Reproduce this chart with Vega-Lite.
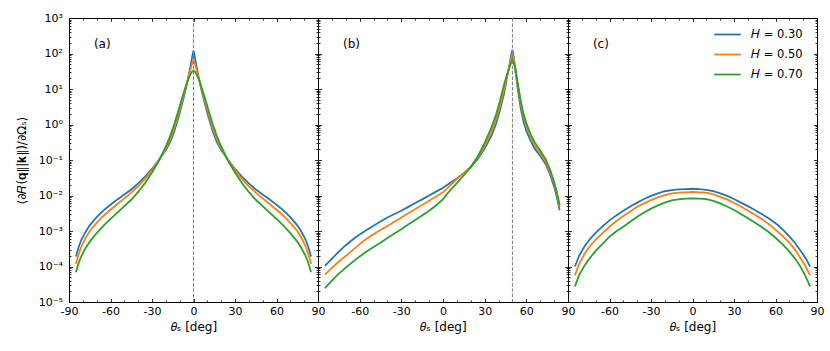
{
"$schema": "https://vega.github.io/schema/vega-lite/v6.json",
"padding": {"left": 14, "top": 11, "right": 5, "bottom": 5},
"spacing": 0,
"bounds": "flush",
"resolve": {"scale": {"color": "independent"}, "legend": {"color": "independent"}},
"datasets": {
"a": [
{"t":-85,"H":"0.30","v":1.905e-4},{"t":-83,"H":"0.30","v":3.548e-4},{"t":-81,"H":"0.30","v":5.754e-4},{"t":-78,"H":"0.30","v":9.55e-4},{"t":-75,"H":"0.30","v":1.445e-3},{"t":-70,"H":"0.30","v":2.455e-3},{"t":-65,"H":"0.30","v":3.802e-3},{"t":-60,"H":"0.30","v":5.495e-3},{"t":-55,"H":"0.30","v":7.762e-3},{"t":-50,"H":"0.30","v":1.072e-2},{"t":-45,"H":"0.30","v":1.479e-2},{"t":-40,"H":"0.30","v":2.188e-2},{"t":-35,"H":"0.30","v":3.388e-2},{"t":-30,"H":"0.30","v":5.623e-2},{"t":-25,"H":"0.30","v":0.1},{"t":-20,"H":"0.30","v":0.1905},{"t":-17,"H":"0.30","v":0.3162},{"t":-14,"H":"0.30","v":0.631},{"t":-11,"H":"0.30","v":1.514},{"t":-8,"H":"0.30","v":4.169},{"t":-6,"H":"0.30","v":8.511},{"t":-4,"H":"0.30","v":19.05},{"t":-2,"H":"0.30","v":47.86},{"t":-1,"H":"0.30","v":79.43},{"t":0,"H":"0.30","v":120.2},
{"t":1,"H":"0.30","v":79.43},{"t":2,"H":"0.30","v":47.86},{"t":4,"H":"0.30","v":19.05},{"t":6,"H":"0.30","v":8.511},{"t":8,"H":"0.30","v":4.169},{"t":11,"H":"0.30","v":1.514},{"t":14,"H":"0.30","v":0.631},{"t":17,"H":"0.30","v":0.3162},{"t":20,"H":"0.30","v":0.1905},{"t":25,"H":"0.30","v":0.1},{"t":30,"H":"0.30","v":5.623e-2},{"t":35,"H":"0.30","v":3.388e-2},{"t":40,"H":"0.30","v":2.188e-2},{"t":45,"H":"0.30","v":1.479e-2},{"t":50,"H":"0.30","v":1.072e-2},{"t":55,"H":"0.30","v":7.762e-3},{"t":60,"H":"0.30","v":5.495e-3},{"t":65,"H":"0.30","v":3.802e-3},{"t":70,"H":"0.30","v":2.455e-3},{"t":75,"H":"0.30","v":1.445e-3},{"t":78,"H":"0.30","v":9.55e-4},{"t":81,"H":"0.30","v":5.754e-4},{"t":83,"H":"0.30","v":3.548e-4},{"t":85,"H":"0.30","v":1.905e-4},
{"t":-85,"H":"0.50","v":1.175e-4},{"t":-83,"H":"0.50","v":2.239e-4},{"t":-81,"H":"0.50","v":3.715e-4},{"t":-78,"H":"0.50","v":6.457e-4},{"t":-75,"H":"0.50","v":1.0e-3},{"t":-70,"H":"0.50","v":1.698e-3},{"t":-65,"H":"0.50","v":2.692e-3},{"t":-60,"H":"0.50","v":3.981e-3},{"t":-55,"H":"0.50","v":5.754e-3},{"t":-50,"H":"0.50","v":8.318e-3},{"t":-45,"H":"0.50","v":1.202e-2},{"t":-40,"H":"0.50","v":1.82e-2},{"t":-35,"H":"0.50","v":2.951e-2},{"t":-30,"H":"0.50","v":5.248e-2},{"t":-25,"H":"0.50","v":0.1},{"t":-20,"H":"0.50","v":0.2089},{"t":-17,"H":"0.50","v":0.3715},{"t":-14,"H":"0.50","v":0.7762},{"t":-11,"H":"0.50","v":1.905},{"t":-8,"H":"0.50","v":5.012},{"t":-6,"H":"0.50","v":9.55},{"t":-4,"H":"0.50","v":19.05},{"t":-2,"H":"0.50","v":38.02},{"t":-1,"H":"0.50","v":52.48},{"t":0,"H":"0.50","v":66.07},
{"t":1,"H":"0.50","v":52.48},{"t":2,"H":"0.50","v":38.02},{"t":4,"H":"0.50","v":19.05},{"t":6,"H":"0.50","v":9.55},{"t":8,"H":"0.50","v":5.012},{"t":11,"H":"0.50","v":1.905},{"t":14,"H":"0.50","v":0.7762},{"t":17,"H":"0.50","v":0.3715},{"t":20,"H":"0.50","v":0.2089},{"t":25,"H":"0.50","v":0.1},{"t":30,"H":"0.50","v":5.248e-2},{"t":35,"H":"0.50","v":2.951e-2},{"t":40,"H":"0.50","v":1.82e-2},{"t":45,"H":"0.50","v":1.202e-2},{"t":50,"H":"0.50","v":8.318e-3},{"t":55,"H":"0.50","v":5.754e-3},{"t":60,"H":"0.50","v":3.981e-3},{"t":65,"H":"0.50","v":2.692e-3},{"t":70,"H":"0.50","v":1.698e-3},{"t":75,"H":"0.50","v":1.0e-3},{"t":78,"H":"0.50","v":6.457e-4},{"t":81,"H":"0.50","v":3.715e-4},{"t":83,"H":"0.50","v":2.239e-4},{"t":85,"H":"0.50","v":1.175e-4},
{"t":-85,"H":"0.70","v":6.918e-5},{"t":-83,"H":"0.70","v":1.259e-4},{"t":-81,"H":"0.70","v":1.995e-4},{"t":-78,"H":"0.70","v":3.311e-4},{"t":-75,"H":"0.70","v":5.012e-4},{"t":-70,"H":"0.70","v":8.71e-4},{"t":-65,"H":"0.70","v":1.413e-3},{"t":-60,"H":"0.70","v":2.188e-3},{"t":-55,"H":"0.70","v":3.311e-3},{"t":-50,"H":"0.70","v":5.012e-3},{"t":-45,"H":"0.70","v":7.586e-3},{"t":-40,"H":"0.70","v":1.259e-2},{"t":-35,"H":"0.70","v":2.239e-2},{"t":-30,"H":"0.70","v":4.467e-2},{"t":-25,"H":"0.70","v":9.55e-2},{"t":-20,"H":"0.70","v":0.2399},{"t":-17,"H":"0.70","v":0.4571},{"t":-14,"H":"0.70","v":1.0},{"t":-11,"H":"0.70","v":2.399},{"t":-8,"H":"0.70","v":6.026},{"t":-6,"H":"0.70","v":10.72},{"t":-4,"H":"0.70","v":18.2},{"t":-2,"H":"0.70","v":26.92},{"t":-1,"H":"0.70","v":30.9},{"t":0,"H":"0.70","v":33.11},
{"t":1,"H":"0.70","v":30.9},{"t":2,"H":"0.70","v":26.92},{"t":4,"H":"0.70","v":18.2},{"t":6,"H":"0.70","v":10.72},{"t":8,"H":"0.70","v":6.026},{"t":11,"H":"0.70","v":2.399},{"t":14,"H":"0.70","v":1.0},{"t":17,"H":"0.70","v":0.4571},{"t":20,"H":"0.70","v":0.2399},{"t":25,"H":"0.70","v":9.55e-2},{"t":30,"H":"0.70","v":4.467e-2},{"t":35,"H":"0.70","v":2.239e-2},{"t":40,"H":"0.70","v":1.259e-2},{"t":45,"H":"0.70","v":7.586e-3},{"t":50,"H":"0.70","v":5.012e-3},{"t":55,"H":"0.70","v":3.311e-3},{"t":60,"H":"0.70","v":2.188e-3},{"t":65,"H":"0.70","v":1.413e-3},{"t":70,"H":"0.70","v":8.71e-4},{"t":75,"H":"0.70","v":5.012e-4},{"t":78,"H":"0.70","v":3.311e-4},{"t":81,"H":"0.70","v":1.995e-4},{"t":83,"H":"0.70","v":1.259e-4},{"t":85,"H":"0.70","v":6.918e-5}
],
"b": [
{"t":-85,"H":"0.30","v":1.047e-4},{"t":-80,"H":"0.30","v":1.66e-4},{"t":-75,"H":"0.30","v":2.63e-4},{"t":-70,"H":"0.30","v":3.981e-4},{"t":-65,"H":"0.30","v":5.754e-4},{"t":-60,"H":"0.30","v":7.943e-4},{"t":-55,"H":"0.30","v":1.072e-3},{"t":-50,"H":"0.30","v":1.413e-3},{"t":-45,"H":"0.30","v":1.862e-3},{"t":-40,"H":"0.30","v":2.399e-3},{"t":-35,"H":"0.30","v":3.02e-3},{"t":-30,"H":"0.30","v":3.715e-3},{"t":-25,"H":"0.30","v":4.786e-3},{"t":-20,"H":"0.30","v":6.166e-3},{"t":-15,"H":"0.30","v":7.762e-3},{"t":-10,"H":"0.30","v":1.0e-2},{"t":-5,"H":"0.30","v":1.288e-2},{"t":0,"H":"0.30","v":1.66e-2},{"t":5,"H":"0.30","v":2.239e-2},{"t":10,"H":"0.30","v":3.02e-2},{"t":15,"H":"0.30","v":4.266e-2},{"t":20,"H":"0.30","v":6.31e-2},{"t":25,"H":"0.30","v":0.1072},{"t":30,"H":"0.30","v":0.2089},{"t":35,"H":"0.30","v":0.5012},{"t":38,"H":"0.30","v":1.0},{"t":41,"H":"0.30","v":2.512},{"t":44,"H":"0.30","v":7.586},{"t":46,"H":"0.30","v":19.95},{"t":48,"H":"0.30","v":52.48},{"t":49,"H":"0.30","v":85.11},{"t":50,"H":"0.30","v":125.9},{"t":51,"H":"0.30","v":75.86},{"t":52,"H":"0.30","v":35.48},{"t":54,"H":"0.30","v":8.913},{"t":56,"H":"0.30","v":2.818},{"t":58,"H":"0.30","v":1.202},{"t":60,"H":"0.30","v":0.6607},{"t":63,"H":"0.30","v":0.3548},{"t":66,"H":"0.30","v":0.2089},{"t":70,"H":"0.30","v":0.1318},{"t":74,"H":"0.30","v":7.586e-2},{"t":77,"H":"0.30","v":3.981e-2},{"t":80,"H":"0.30","v":1.778e-2},{"t":82,"H":"0.30","v":8.913e-3},{"t":84,"H":"0.30","v":3.802e-3},
{"t":-85,"H":"0.50","v":5.888e-5},{"t":-80,"H":"0.50","v":9.12e-5},{"t":-75,"H":"0.50","v":1.38e-4},{"t":-70,"H":"0.50","v":1.995e-4},{"t":-65,"H":"0.50","v":2.884e-4},{"t":-60,"H":"0.50","v":4.266e-4},{"t":-55,"H":"0.50","v":6.026e-4},{"t":-50,"H":"0.50","v":8.128e-4},{"t":-45,"H":"0.50","v":1.072e-3},{"t":-40,"H":"0.50","v":1.38e-3},{"t":-35,"H":"0.50","v":1.82e-3},{"t":-30,"H":"0.50","v":2.399e-3},{"t":-25,"H":"0.50","v":3.162e-3},{"t":-20,"H":"0.50","v":4.169e-3},{"t":-15,"H":"0.50","v":5.37e-3},{"t":-10,"H":"0.50","v":7.079e-3},{"t":-5,"H":"0.50","v":9.333e-3},{"t":0,"H":"0.50","v":1.23e-2},{"t":5,"H":"0.50","v":1.905e-2},{"t":10,"H":"0.50","v":2.884e-2},{"t":15,"H":"0.50","v":4.266e-2},{"t":20,"H":"0.50","v":6.457e-2},{"t":25,"H":"0.50","v":0.1175},{"t":30,"H":"0.50","v":0.2512},{"t":35,"H":"0.50","v":0.6607},{"t":38,"H":"0.50","v":1.318},{"t":41,"H":"0.50","v":3.311},{"t":44,"H":"0.50","v":10.0},{"t":46,"H":"0.50","v":22.39},{"t":48,"H":"0.50","v":47.86},{"t":49,"H":"0.50","v":69.18},{"t":50,"H":"0.50","v":93.33},{"t":51,"H":"0.50","v":66.07},{"t":52,"H":"0.50","v":38.02},{"t":54,"H":"0.50","v":11.22},{"t":56,"H":"0.50","v":3.802},{"t":58,"H":"0.50","v":1.66},{"t":60,"H":"0.50","v":0.8913},{"t":63,"H":"0.50","v":0.4467},{"t":66,"H":"0.50","v":0.257},{"t":70,"H":"0.50","v":0.1585},{"t":74,"H":"0.50","v":8.913e-2},{"t":77,"H":"0.50","v":4.677e-2},{"t":80,"H":"0.50","v":2.138e-2},{"t":82,"H":"0.50","v":1.096e-2},{"t":84,"H":"0.50","v":4.677e-3},
{"t":-85,"H":"0.70","v":2.455e-5},{"t":-80,"H":"0.70","v":3.981e-5},{"t":-75,"H":"0.70","v":6.31e-5},{"t":-70,"H":"0.70","v":9.333e-5},{"t":-65,"H":"0.70","v":1.349e-4},{"t":-60,"H":"0.70","v":1.905e-4},{"t":-55,"H":"0.70","v":2.63e-4},{"t":-50,"H":"0.70","v":3.548e-4},{"t":-45,"H":"0.70","v":4.677e-4},{"t":-40,"H":"0.70","v":6.31e-4},{"t":-35,"H":"0.70","v":8.511e-4},{"t":-30,"H":"0.70","v":1.122e-3},{"t":-25,"H":"0.70","v":1.514e-3},{"t":-20,"H":"0.70","v":2.042e-3},{"t":-15,"H":"0.70","v":2.754e-3},{"t":-10,"H":"0.70","v":3.715e-3},{"t":-5,"H":"0.70","v":5.248e-3},{"t":0,"H":"0.70","v":7.943e-3},{"t":5,"H":"0.70","v":1.38e-2},{"t":10,"H":"0.70","v":2.239e-2},{"t":15,"H":"0.70","v":3.715e-2},{"t":20,"H":"0.70","v":6.31e-2},{"t":25,"H":"0.70","v":0.1259},{"t":30,"H":"0.70","v":0.302},{"t":35,"H":"0.70","v":0.8511},{"t":38,"H":"0.70","v":1.778},{"t":41,"H":"0.70","v":4.571},{"t":44,"H":"0.70","v":13.49},{"t":46,"H":"0.70","v":25.12},{"t":48,"H":"0.70","v":41.69},{"t":49,"H":"0.70","v":53.7},{"t":50,"H":"0.70","v":66.07},{"t":51,"H":"0.70","v":52.48},{"t":52,"H":"0.70","v":39.81},{"t":54,"H":"0.70","v":13.18},{"t":56,"H":"0.70","v":4.571},{"t":58,"H":"0.70","v":1.995},{"t":60,"H":"0.70","v":1.096},{"t":63,"H":"0.70","v":0.537},{"t":66,"H":"0.70","v":0.3162},{"t":70,"H":"0.70","v":0.1862},{"t":74,"H":"0.70","v":0.1047},{"t":77,"H":"0.70","v":5.495e-2},{"t":80,"H":"0.70","v":2.399e-2},{"t":82,"H":"0.70","v":1.23e-2},{"t":84,"H":"0.70","v":5.248e-3}
],
"c": [
{"t":-85,"H":"0.30","v":1.0e-4},{"t":-82,"H":"0.30","v":1.995e-4},{"t":-78,"H":"0.30","v":3.715e-4},{"t":-74,"H":"0.30","v":6.026e-4},{"t":-70,"H":"0.30","v":8.913e-4},{"t":-65,"H":"0.30","v":1.349e-3},{"t":-60,"H":"0.30","v":1.995e-3},{"t":-55,"H":"0.30","v":2.754e-3},{"t":-50,"H":"0.30","v":3.715e-3},{"t":-45,"H":"0.30","v":4.898e-3},{"t":-40,"H":"0.30","v":6.31e-3},{"t":-35,"H":"0.30","v":7.943e-3},{"t":-30,"H":"0.30","v":9.772e-3},{"t":-25,"H":"0.30","v":1.148e-2},{"t":-20,"H":"0.30","v":1.318e-2},{"t":-15,"H":"0.30","v":1.413e-2},{"t":-10,"H":"0.30","v":1.479e-2},{"t":-5,"H":"0.30","v":1.514e-2},{"t":0,"H":"0.30","v":1.549e-2},{"t":5,"H":"0.30","v":1.514e-2},{"t":10,"H":"0.30","v":1.445e-2},{"t":15,"H":"0.30","v":1.318e-2},{"t":20,"H":"0.30","v":1.148e-2},{"t":25,"H":"0.30","v":9.772e-3},{"t":30,"H":"0.30","v":7.943e-3},{"t":35,"H":"0.30","v":6.31e-3},{"t":40,"H":"0.30","v":5.012e-3},{"t":45,"H":"0.30","v":3.89e-3},{"t":50,"H":"0.30","v":3.02e-3},{"t":55,"H":"0.30","v":2.291e-3},{"t":60,"H":"0.30","v":1.66e-3},{"t":65,"H":"0.30","v":1.122e-3},{"t":70,"H":"0.30","v":7.079e-4},{"t":74,"H":"0.30","v":4.677e-4},{"t":78,"H":"0.30","v":2.818e-4},{"t":82,"H":"0.30","v":1.66e-4},{"t":85,"H":"0.30","v":1.0e-4},
{"t":-85,"H":"0.50","v":5.623e-5},{"t":-82,"H":"0.50","v":1.175e-4},{"t":-78,"H":"0.50","v":2.291e-4},{"t":-74,"H":"0.50","v":3.802e-4},{"t":-70,"H":"0.50","v":5.754e-4},{"t":-65,"H":"0.50","v":8.71e-4},{"t":-60,"H":"0.50","v":1.318e-3},{"t":-55,"H":"0.50","v":1.905e-3},{"t":-50,"H":"0.50","v":2.63e-3},{"t":-45,"H":"0.50","v":3.548e-3},{"t":-40,"H":"0.50","v":4.786e-3},{"t":-35,"H":"0.50","v":6.026e-3},{"t":-30,"H":"0.50","v":7.413e-3},{"t":-25,"H":"0.50","v":8.913e-3},{"t":-20,"H":"0.50","v":1.023e-2},{"t":-15,"H":"0.50","v":1.148e-2},{"t":-10,"H":"0.50","v":1.202e-2},{"t":-5,"H":"0.50","v":1.23e-2},{"t":0,"H":"0.50","v":1.259e-2},{"t":5,"H":"0.50","v":1.23e-2},{"t":10,"H":"0.50","v":1.202e-2},{"t":15,"H":"0.50","v":1.072e-2},{"t":20,"H":"0.50","v":9.12e-3},{"t":25,"H":"0.50","v":7.762e-3},{"t":30,"H":"0.50","v":6.166e-3},{"t":35,"H":"0.50","v":4.898e-3},{"t":40,"H":"0.50","v":3.802e-3},{"t":45,"H":"0.50","v":2.884e-3},{"t":50,"H":"0.50","v":2.188e-3},{"t":55,"H":"0.50","v":1.585e-3},{"t":60,"H":"0.50","v":1.096e-3},{"t":65,"H":"0.50","v":7.244e-4},{"t":70,"H":"0.50","v":4.677e-4},{"t":74,"H":"0.50","v":3.02e-4},{"t":78,"H":"0.50","v":1.738e-4},{"t":82,"H":"0.50","v":9.55e-5},{"t":85,"H":"0.50","v":5.623e-5},
{"t":-85,"H":"0.70","v":2.754e-5},{"t":-82,"H":"0.70","v":5.623e-5},{"t":-78,"H":"0.70","v":1.072e-4},{"t":-74,"H":"0.70","v":1.778e-4},{"t":-70,"H":"0.70","v":2.754e-4},{"t":-65,"H":"0.70","v":4.365e-4},{"t":-60,"H":"0.70","v":6.918e-4},{"t":-55,"H":"0.70","v":9.772e-4},{"t":-50,"H":"0.70","v":1.318e-3},{"t":-45,"H":"0.70","v":1.82e-3},{"t":-40,"H":"0.70","v":2.512e-3},{"t":-35,"H":"0.70","v":3.311e-3},{"t":-30,"H":"0.70","v":4.266e-3},{"t":-25,"H":"0.70","v":5.248e-3},{"t":-20,"H":"0.70","v":6.31e-3},{"t":-15,"H":"0.70","v":7.244e-3},{"t":-10,"H":"0.70","v":7.762e-3},{"t":-5,"H":"0.70","v":8.128e-3},{"t":0,"H":"0.70","v":8.318e-3},{"t":5,"H":"0.70","v":8.128e-3},{"t":10,"H":"0.70","v":7.943e-3},{"t":15,"H":"0.70","v":7.079e-3},{"t":20,"H":"0.70","v":6.026e-3},{"t":25,"H":"0.70","v":4.898e-3},{"t":30,"H":"0.70","v":3.89e-3},{"t":35,"H":"0.70","v":3.02e-3},{"t":40,"H":"0.70","v":2.291e-3},{"t":45,"H":"0.70","v":1.738e-3},{"t":50,"H":"0.70","v":1.288e-3},{"t":55,"H":"0.70","v":9.333e-4},{"t":60,"H":"0.70","v":6.457e-4},{"t":65,"H":"0.70","v":4.266e-4},{"t":70,"H":"0.70","v":2.63e-4},{"t":74,"H":"0.70","v":1.698e-4},{"t":78,"H":"0.70","v":1.0e-4},{"t":82,"H":"0.70","v":5.012e-5},{"t":85,"H":"0.70","v":2.754e-5}
]
},
"hconcat": [
{
"width": 249, "height": 284,
"data": {"name": "a"},
"resolve": {"axis": {"x": "independent", "y": "independent"}},
"layer": [
{"mark": {"type": "line", "strokeWidth": 1.8},
 "encoding": {
  "x": {"field": "t", "type": "quantitative", "scale": {"domain": [-90, 90], "nice": false, "zero": false},
        "axis": {"orient": "bottom", "values": [-90, -60, -30, 0, 30, 60, 90], "tickSize": -3.5, "labelPadding": 7, "labelExpr": "replace(datum.label, '−', '-')", "title": "𝜃ₛ [deg]", "titlePadding": 5}},
  "y": {"field": "v", "type": "quantitative", "scale": {"type": "log", "domain": [1e-5, 1000], "nice": false},
        "axis": {"orient": "left", "values": [1e-5, 1e-4, 1e-3, 1e-2, 0.1, 1, 10, 100, 1000], "tickSize": -3.5, "labelPadding": 10, "title": "⟨∂𝑅(𝐪∥|𝐤∥)/∂Ωₛ⟩", "titlePadding": 10,
        "labelExpr": "datum.value >= 999 ? '10³' : datum.value >= 99 ? '10²' : datum.value >= 9 ? '10¹' : datum.value >= 0.9 ? '10⁰' : datum.value >= 0.09 ? '10⁻¹' : datum.value >= 0.009 ? '10⁻²' : datum.value >= 0.0009 ? '10⁻³' : datum.value >= 0.00009 ? '10⁻⁴' : '10⁻⁵'"}},
  "color": {"field": "H", "type": "nominal", "scale": {"domain": ["0.30", "0.50", "0.70"], "range": ["#1f77b4", "#ff7f0e", "#2ca02c"]}, "legend": null}
 }},
{"mark": {"type": "line", "opacity": 0},
 "encoding": {
  "x": {"field": "t", "type": "quantitative", "axis": {"orient": "top", "values": [-90, -60, -30, 0, 30, 60, 90], "tickSize": -3.5, "labels": false, "title": null}},
  "y": {"field": "v", "type": "quantitative", "axis": {"orient": "right", "values": [1e-5, 1e-4, 1e-3, 1e-2, 0.1, 1, 10, 100, 1000], "tickSize": -3.5, "labels": false, "title": null}}
 }},
{"mark": {"type": "line", "opacity": 0},
 "encoding": {
  "x": {"field": "t", "type": "quantitative", "axis": {"orient": "bottom", "values": [-80, -70, -50, -40, -20, -10, 10, 20, 40, 50, 70, 80], "tickSize": -2, "labels": false, "title": null}},
  "y": {"field": "v", "type": "quantitative", "axis": {"orient": "left", "values": [2e-5,3e-5,4e-5,5e-5,6e-5,7e-5,8e-5,9e-5,2e-4,3e-4,4e-4,5e-4,6e-4,7e-4,8e-4,9e-4,2e-3,3e-3,4e-3,5e-3,6e-3,7e-3,8e-3,9e-3,2e-2,3e-2,4e-2,5e-2,6e-2,7e-2,8e-2,9e-2,0.2,0.3,0.4,0.5,0.6,0.7,0.8,0.9,2,3,4,5,6,7,8,9,20,30,40,50,60,70,80,90,200,300,400,500,600,700,800,900], "tickSize": -2, "labels": false, "title": null}}
 }},
{"mark": {"type": "line", "opacity": 0},
 "encoding": {
  "x": {"field": "t", "type": "quantitative", "axis": {"orient": "top", "values": [-80, -70, -50, -40, -20, -10, 10, 20, 40, 50, 70, 80], "tickSize": -2, "labels": false, "title": null}},
  "y": {"field": "v", "type": "quantitative", "axis": {"orient": "right", "values": [2e-5,3e-5,4e-5,5e-5,6e-5,7e-5,8e-5,9e-5,2e-4,3e-4,4e-4,5e-4,6e-4,7e-4,8e-4,9e-4,2e-3,3e-3,4e-3,5e-3,6e-3,7e-3,8e-3,9e-3,2e-2,3e-2,4e-2,5e-2,6e-2,7e-2,8e-2,9e-2,0.2,0.3,0.4,0.5,0.6,0.7,0.8,0.9,2,3,4,5,6,7,8,9,20,30,40,50,60,70,80,90,200,300,400,500,600,700,800,900], "tickSize": -2, "labels": false, "title": null}}
 }},
{"data": {"values": [{}]},
 "mark": {"type": "rule", "color": "#808080", "strokeDash": [3.7, 1.6], "strokeWidth": 1},
 "encoding": {"x": {"datum": 0, "type": "quantitative", "axis": null}}},
{"data": {"values": [{}]},
 "mark": {"type": "text", "align": "left", "baseline": "middle", "fontSize": 12, "font": "DejaVu Sans", "color": "black"},
 "encoding": {"x": {"datum": -72, "type": "quantitative", "axis": null}, "y": {"datum": 190, "type": "quantitative", "axis": null}, "text": {"value": "(a)"}}}
]
},
{
"width": 250, "height": 284,
"data": {"name": "b"},
"resolve": {"axis": {"x": "independent", "y": "independent"}},
"layer": [
{"mark": {"type": "line", "strokeWidth": 1.8},
 "encoding": {
  "x": {"field": "t", "type": "quantitative", "scale": {"domain": [-90, 90], "nice": false, "zero": false},
        "axis": {"orient": "bottom", "values": [-60, -30, 0, 30, 60, 90], "tickSize": -3.5, "labelPadding": 7, "labelExpr": "replace(datum.label, '−', '-')", "title": "𝜃ₛ [deg]", "titlePadding": 5}},
  "y": {"field": "v", "type": "quantitative", "scale": {"type": "log", "domain": [1e-5, 1000], "nice": false},
        "axis": {"orient": "left", "values": [1e-5, 1e-4, 1e-3, 1e-2, 0.1, 1, 10, 100, 1000], "tickSize": -3.5, "labels": false, "title": null}},
  "color": {"field": "H", "type": "nominal", "scale": {"domain": ["0.30", "0.50", "0.70"], "range": ["#1f77b4", "#ff7f0e", "#2ca02c"]}, "legend": null}
 }},
{"mark": {"type": "line", "opacity": 0},
 "encoding": {
  "x": {"field": "t", "type": "quantitative", "axis": {"orient": "top", "values": [-90, -60, -30, 0, 30, 60, 90], "tickSize": -3.5, "labels": false, "title": null}},
  "y": {"field": "v", "type": "quantitative", "axis": {"orient": "right", "values": [1e-5, 1e-4, 1e-3, 1e-2, 0.1, 1, 10, 100, 1000], "tickSize": -3.5, "labels": false, "title": null}}
 }},
{"mark": {"type": "line", "opacity": 0},
 "encoding": {
  "x": {"field": "t", "type": "quantitative", "axis": {"orient": "bottom", "values": [-80, -70, -50, -40, -20, -10, 10, 20, 40, 50, 70, 80], "tickSize": -2, "labels": false, "title": null}},
  "y": {"field": "v", "type": "quantitative", "axis": {"orient": "left", "values": [2e-5,3e-5,4e-5,5e-5,6e-5,7e-5,8e-5,9e-5,2e-4,3e-4,4e-4,5e-4,6e-4,7e-4,8e-4,9e-4,2e-3,3e-3,4e-3,5e-3,6e-3,7e-3,8e-3,9e-3,2e-2,3e-2,4e-2,5e-2,6e-2,7e-2,8e-2,9e-2,0.2,0.3,0.4,0.5,0.6,0.7,0.8,0.9,2,3,4,5,6,7,8,9,20,30,40,50,60,70,80,90,200,300,400,500,600,700,800,900], "tickSize": -2, "labels": false, "title": null}}
 }},
{"mark": {"type": "line", "opacity": 0},
 "encoding": {
  "x": {"field": "t", "type": "quantitative", "axis": {"orient": "top", "values": [-80, -70, -50, -40, -20, -10, 10, 20, 40, 50, 70, 80], "tickSize": -2, "labels": false, "title": null}},
  "y": {"field": "v", "type": "quantitative", "axis": {"orient": "right", "values": [2e-5,3e-5,4e-5,5e-5,6e-5,7e-5,8e-5,9e-5,2e-4,3e-4,4e-4,5e-4,6e-4,7e-4,8e-4,9e-4,2e-3,3e-3,4e-3,5e-3,6e-3,7e-3,8e-3,9e-3,2e-2,3e-2,4e-2,5e-2,6e-2,7e-2,8e-2,9e-2,0.2,0.3,0.4,0.5,0.6,0.7,0.8,0.9,2,3,4,5,6,7,8,9,20,30,40,50,60,70,80,90,200,300,400,500,600,700,800,900], "tickSize": -2, "labels": false, "title": null}}
 }},
{"data": {"values": [{}]},
 "mark": {"type": "rule", "color": "#808080", "strokeDash": [3.7, 1.6], "strokeWidth": 1},
 "encoding": {"x": {"datum": 50, "type": "quantitative", "axis": null}}},
{"data": {"values": [{}]},
 "mark": {"type": "text", "align": "left", "baseline": "middle", "fontSize": 12, "font": "DejaVu Sans", "color": "black"},
 "encoding": {"x": {"datum": -72, "type": "quantitative", "axis": null}, "y": {"datum": 190, "type": "quantitative", "axis": null}, "text": {"value": "(b)"}}}
]
},
{
"width": 249, "height": 284,
"data": {"name": "c"},
"resolve": {"axis": {"x": "independent", "y": "independent"}},
"layer": [
{"mark": {"type": "line", "strokeWidth": 1.8},
 "encoding": {
  "x": {"field": "t", "type": "quantitative", "scale": {"domain": [-90, 90], "nice": false, "zero": false},
        "axis": {"orient": "bottom", "values": [-60, -30, 0, 30, 60, 90], "tickSize": -3.5, "labelPadding": 7, "labelExpr": "replace(datum.label, '−', '-')", "title": "𝜃ₛ [deg]", "titlePadding": 5}},
  "y": {"field": "v", "type": "quantitative", "scale": {"type": "log", "domain": [1e-5, 1000], "nice": false},
        "axis": {"orient": "left", "values": [1e-5, 1e-4, 1e-3, 1e-2, 0.1, 1, 10, 100, 1000], "tickSize": -3.5, "labels": false, "title": null}},
  "color": {"field": "H", "type": "nominal", "scale": {"domain": ["0.30", "0.50", "0.70"], "range": ["#1f77b4", "#ff7f0e", "#2ca02c"]},
            "legend": {"orient": "none", "legendX": 145, "legendY": 2, "title": null, "symbolType": "stroke", "symbolStrokeWidth": 1.8, "symbolSize": 700, "labelFontSize": 11.5, "labelFont": "DejaVu Sans", "labelColor": "black", "labelExpr": "'𝐻 = ' + datum.label", "rowPadding": -0.8, "labelOffset": 9}}
 }},
{"mark": {"type": "line", "opacity": 0},
 "encoding": {
  "x": {"field": "t", "type": "quantitative", "axis": {"orient": "top", "values": [-90, -60, -30, 0, 30, 60, 90], "tickSize": -3.5, "labels": false, "title": null}},
  "y": {"field": "v", "type": "quantitative", "axis": {"orient": "right", "values": [1e-5, 1e-4, 1e-3, 1e-2, 0.1, 1, 10, 100, 1000], "tickSize": -3.5, "labels": false, "title": null}}
 }},
{"mark": {"type": "line", "opacity": 0},
 "encoding": {
  "x": {"field": "t", "type": "quantitative", "axis": {"orient": "bottom", "values": [-80, -70, -50, -40, -20, -10, 10, 20, 40, 50, 70, 80], "tickSize": -2, "labels": false, "title": null}},
  "y": {"field": "v", "type": "quantitative", "axis": {"orient": "left", "values": [2e-5,3e-5,4e-5,5e-5,6e-5,7e-5,8e-5,9e-5,2e-4,3e-4,4e-4,5e-4,6e-4,7e-4,8e-4,9e-4,2e-3,3e-3,4e-3,5e-3,6e-3,7e-3,8e-3,9e-3,2e-2,3e-2,4e-2,5e-2,6e-2,7e-2,8e-2,9e-2,0.2,0.3,0.4,0.5,0.6,0.7,0.8,0.9,2,3,4,5,6,7,8,9,20,30,40,50,60,70,80,90,200,300,400,500,600,700,800,900], "tickSize": -2, "labels": false, "title": null}}
 }},
{"mark": {"type": "line", "opacity": 0},
 "encoding": {
  "x": {"field": "t", "type": "quantitative", "axis": {"orient": "top", "values": [-80, -70, -50, -40, -20, -10, 10, 20, 40, 50, 70, 80], "tickSize": -2, "labels": false, "title": null}},
  "y": {"field": "v", "type": "quantitative", "axis": {"orient": "right", "values": [2e-5,3e-5,4e-5,5e-5,6e-5,7e-5,8e-5,9e-5,2e-4,3e-4,4e-4,5e-4,6e-4,7e-4,8e-4,9e-4,2e-3,3e-3,4e-3,5e-3,6e-3,7e-3,8e-3,9e-3,2e-2,3e-2,4e-2,5e-2,6e-2,7e-2,8e-2,9e-2,0.2,0.3,0.4,0.5,0.6,0.7,0.8,0.9,2,3,4,5,6,7,8,9,20,30,40,50,60,70,80,90,200,300,400,500,600,700,800,900], "tickSize": -2, "labels": false, "title": null}}
 }},
{"data": {"values": [{}]},
 "mark": {"type": "text", "align": "left", "baseline": "middle", "fontSize": 12, "font": "DejaVu Sans", "color": "black"},
 "encoding": {"x": {"datum": -72, "type": "quantitative", "axis": null}, "y": {"datum": 190, "type": "quantitative", "axis": null}, "text": {"value": "(c)"}}}
]
}
],
"config": {
 "font": "DejaVu Sans",
 "view": {"stroke": "black", "strokeWidth": 1},
 "axis": {"grid": false, "domain": false, "tickColor": "black", "tickWidth": 0.8, "labelColor": "black", "labelFont": "DejaVu Sans", "labelFontSize": 11, "titleFont": "DejaVu Sans", "titleFontSize": 12, "titleFontWeight": "normal", "titleColor": "black", "labelFlush": false, "labelOverlap": false, "labelBound": false}
}
}
